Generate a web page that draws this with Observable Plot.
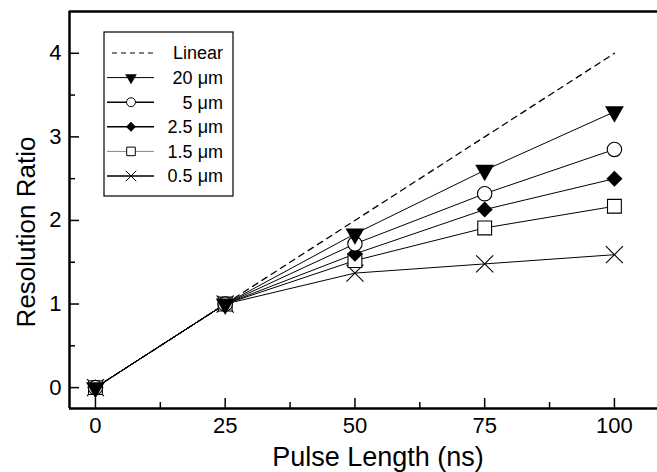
<!DOCTYPE html>
<html>
<head>
<meta charset="utf-8">
<script src="https://cdn.jsdelivr.net/npm/d3@7"></script>
<script src="https://cdn.jsdelivr.net/npm/@observablehq/plot@0.6"></script>
<style>
  html, body { margin: 0; padding: 0; background: #fff; }
  #chart svg { display: block; font-family: "Liberation Sans", Arial, sans-serif; }
</style>
</head>
<body>
<div id="chart"></div>
<script>
// ---- data ----
const pulseLength = [0, 25, 50, 75, 100];
const linearRatio = [0, 1, 2, 3, 4];
const ratio20 = [0, 1, 1.84, 2.60, 3.30];
const ratio5 = [0, 1, 1.72, 2.32, 2.85];
const ratio2_5 = [0, 1, 1.60, 2.13, 2.50];
const ratio1_5 = [0, 1, 1.52, 1.91, 2.17];
const ratio0_5 = [0, 1, 1.37, 1.48, 1.59];
const seriesNames = ["20 μm", "5 μm", "2.5 μm", "1.5 μm", "0.5 μm"];
const linearName = "Linear";
const xMajorTicks = [0, 25, 50, 75, 100];
const xMinorTicks = [12.5, 37.5, 62.5, 87.5];
const yMajorTicks = [0, 1, 2, 3, 4];
const yMinorTicks = [0.5, 1.5, 2.5, 3.5];
const xLabel = "Pulse Length (ns)";
const yLabel = "Resolution Ratio";

const xDomain = [-5, 108.3];
const yDomain = [-0.25, 4.5];

const W = 657, H = 472, mL = 69, mR = 0, mT = 11, mB = 64;
const plotW = W - mL - mR, plotH = H - mT - mB;

const seriesValues = [ratio20, ratio5, ratio2_5, ratio1_5, ratio0_5];
const seriesStyle = [
  {symbol: "triangle", r: 7, fill: "black", stroke: "none", rotate: 180},
  {symbol: "circle", r: 7.2, fill: "white", stroke: "black", rotate: 0},
  {symbol: "diamond2", r: 7.2, fill: "black", stroke: "none", rotate: 0},
  {symbol: "square", r: 7.8, fill: "white", stroke: "black", rotate: 0},
  {symbol: "times", r: 7.8, fill: "none", stroke: "black", rotate: 0}
];

const toRows = (vals, name) => pulseLength.map((x, i) => ({series: name, x, y: vals[i]}));
const linearRows = toRows(linearRatio, linearName);
const seriesRows = seriesNames.map((n, k) => toRows(seriesValues[k], n));

const marks = [];
// axis frame lines
marks.push(Plot.ruleY([yDomain[0]], {stroke: "black", strokeWidth: 2.5}));
marks.push(Plot.ruleY([yDomain[1]], {stroke: "black", strokeWidth: 2.5}));
marks.push(Plot.ruleX([xDomain[0]], {stroke: "black", strokeWidth: 2.5}));
// inward ticks
marks.push(Plot.tickX(xMajorTicks, {x: d => d, insetTop: plotH - 10, stroke: "black", strokeWidth: 1.5}));
marks.push(Plot.tickX(xMinorTicks, {x: d => d, insetTop: plotH - 6, stroke: "black", strokeWidth: 1.5}));
marks.push(Plot.tickY(yMajorTicks, {y: d => d, insetRight: plotW - 10, stroke: "black", strokeWidth: 1.5}));
marks.push(Plot.tickY(yMinorTicks, {y: d => d, insetRight: plotW - 6, stroke: "black", strokeWidth: 1.5}));
// tick labels
marks.push(Plot.axisX({ticks: xMajorTicks, tickSize: 0, tickPadding: 9, fontSize: 22, label: null, tickFormat: d => String(d)}));
marks.push(Plot.axisY({ticks: yMajorTicks, tickSize: 0, tickPadding: 8, fontSize: 22, label: null, tickFormat: d => String(d)}));

// linear dashed line
marks.push(Plot.line(linearRows, {x: "x", y: "y", stroke: "black", strokeWidth: 1.3, strokeDasharray: "6,5"}));
// series lines
seriesRows.forEach(rows => {
  marks.push(Plot.line(rows, {x: "x", y: "y", stroke: "black", strokeWidth: 1}));
});
// series markers (reverse order so 20 µm is on top at shared points)
seriesRows.slice().reverse().forEach((rows, j) => {
  const st = seriesStyle[seriesRows.length - 1 - j];
  marks.push(Plot.dot(rows, {x: "x", y: "y", symbol: st.symbol, r: st.r, fill: st.fill, stroke: st.stroke, strokeWidth: 1.1, rotate: st.rotate}));
});

const chart = Plot.plot({
  width: W,
  height: H,
  marginLeft: mL,
  marginRight: mR,
  marginTop: mT,
  marginBottom: mB,
  style: {fontFamily: "'Liberation Sans', Arial, sans-serif", background: "white", color: "black", overflow: "visible"},
  x: {domain: xDomain},
  y: {domain: yDomain},
  marks
});
document.getElementById("chart").appendChild(chart);

// ---- axis titles and legend ----
const svg = d3.select(chart);

svg.append("text")
  .attr("x", 378).attr("y", 466)
  .attr("text-anchor", "middle")
  .attr("font-size", 27)
  .attr("fill", "black")
  .text(xLabel);
svg.append("text")
  .attr("transform", "translate(35,232) rotate(-90)")
  .attr("text-anchor", "middle")
  .attr("font-size", 26)
  .attr("fill", "black")
  .text(yLabel);

const lg = svg.append("g").attr("class", "legend");
const lx = 104, ly = 32, lw = 129, lh = 164;
lg.append("rect").attr("x", lx).attr("y", ly).attr("width", lw).attr("height", lh)
  .attr("fill", "white").attr("stroke", "black").attr("stroke-width", 1.2);
const entries = [linearName, ...seriesNames];
const rowY = i => 53 + i * 24.6;
const symMap = {triangle: d3.symbolTriangle, circle: d3.symbolCircle, diamond2: d3.symbolDiamond2, square: d3.symbolSquare, times: d3.symbolTimes};
entries.forEach((name, i) => {
  const y = rowY(i);
  if (i === 0) {
    lg.append("line").attr("x1", 112).attr("x2", 153).attr("y1", y).attr("y2", y)
      .attr("stroke", "black").attr("stroke-width", 1.2).attr("stroke-dasharray", "5,4");
  } else {
    const st = seriesStyle[i - 1];
    const grey = name === "1.5 μm";
    lg.append("line").attr("x1", 107).attr("x2", 154).attr("y1", y).attr("y2", y)
      .attr("stroke", grey ? "#888" : "black").attr("stroke-width", grey || i === 1 ? 1 : 1.6);
    const size = Math.PI * Math.pow(st.r * 0.62, 2);
    lg.append("path")
      .attr("d", d3.symbol(symMap[st.symbol], size)())
      .attr("transform", `translate(131,${y}) rotate(${st.rotate})`)
      .attr("fill", st.fill)
      .attr("stroke", st.stroke === "none" ? "none" : "black")
      .attr("stroke-width", 1);
  }
  lg.append("text").attr("x", 223).attr("y", y).attr("dy", "0.35em")
    .attr("text-anchor", "end").attr("font-size", 18).attr("fill", "black")
    .text(name);
});
</script>
</body>
</html>
